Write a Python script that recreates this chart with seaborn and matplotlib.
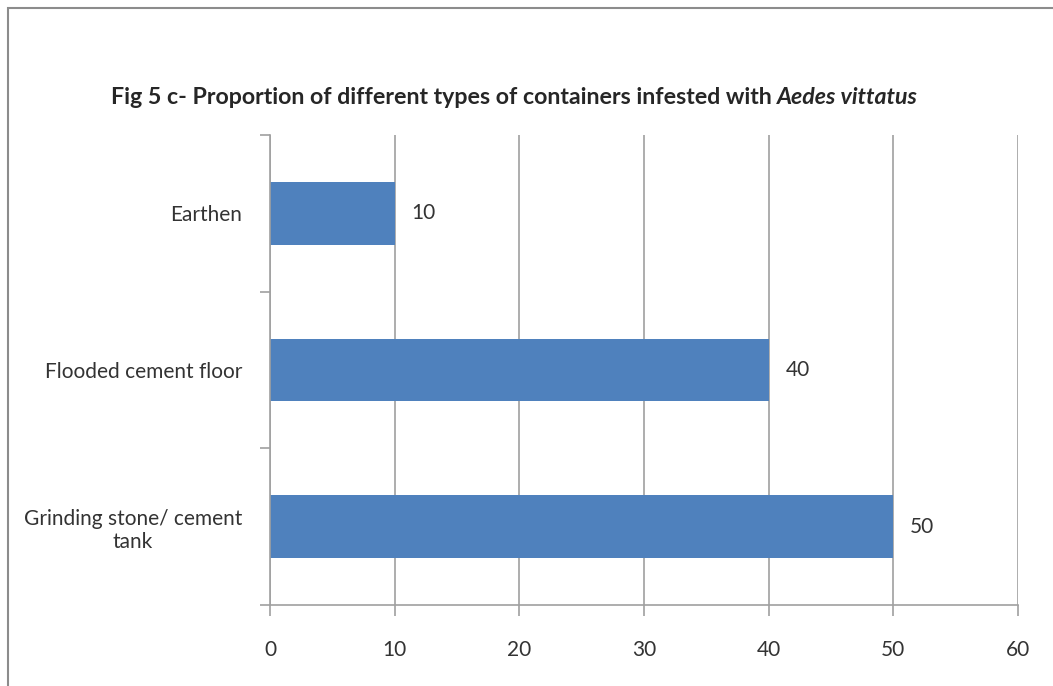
import seaborn as sns
import matplotlib.pyplot as plt
import pandas as pd
from matplotlib.patches import Rectangle

# data
categories = ["Earthen", "Flooded cement floor", "Grinding stone/ cement\ntank"]
values = [10, 40, 50]
xticks = [0, 10, 20, 30, 40, 50, 60]

df = pd.DataFrame({"type": categories, "value": values})

sns.set_style("white")
plt.rcParams["font.family"] = ["Lato", "DejaVu Sans"]

fig = plt.figure(figsize=(10.53, 6.86), dpi=100)
ax = fig.add_axes([0.2564, 0.1181, 0.7103, 0.6851])

sns.barplot(data=df, x="value", y="type", orient="h", color="#4F81BD",
            width=0.4, saturation=1, linewidth=0, ax=ax)

ax.set_xlim(0, 60)
ax.set_ylim(2.5, -0.5)
ax.set_xticks(xticks)
ax.set_xticklabels([str(t) for t in xticks], fontsize=15, color="#333333")
ax.set_xlabel("")
ax.set_ylabel("")
ax.xaxis.grid(True, color="#A0A0A0", linewidth=1.2)
ax.set_axisbelow(True)

# y ticks at category boundaries, labels at centers
ax.set_yticks([-0.5, 0.5, 1.5, 2.5])
ax.set_yticklabels([])
ax.set_yticks([0, 1, 2], minor=True)
ax.set_yticklabels(categories, minor=True, fontsize=15, color="#333333",
                   ha="right", multialignment="center")
ax.tick_params(axis="y", which="minor", left=False, length=0, pad=20)
ax.tick_params(axis="y", which="major", left=True, length=7, color="#A0A0A0", width=1.2)
ax.tick_params(axis="x", bottom=True, length=8, color="#A0A0A0", width=1.2, pad=17)

for s in ["top", "right"]:
    ax.spines[s].set_visible(False)
for s in ["left", "bottom"]:
    ax.spines[s].set_color("#A0A0A0")
    ax.spines[s].set_linewidth(1.2)

ax.bar_label(ax.containers[0], labels=[str(v) for v in values], padding=12,
             fontsize=15, color="#333333")

# outer frame
fig.patches.append(Rectangle((0.008, -0.05), 1.1, 1.038, transform=fig.transFigure,
                             fill=False, edgecolor="#8C8C8C", linewidth=1.5))

# title: bold with italic species name
t1 = fig.text(0.105, 0.858, "Fig 5 c- Proportion of different types of containers infested with ",
              fontsize=16.7, fontweight="bold", ha="left", va="center")
fig.canvas.draw()
bb = t1.get_window_extent()
x2 = bb.x1 / fig.bbox.width
fig.text(x2, 0.858, "Aedes vittatus", fontsize=16.7, fontweight="bold",
         fontstyle="italic", ha="left", va="center")

fig.savefig("out.png", dpi=100)
